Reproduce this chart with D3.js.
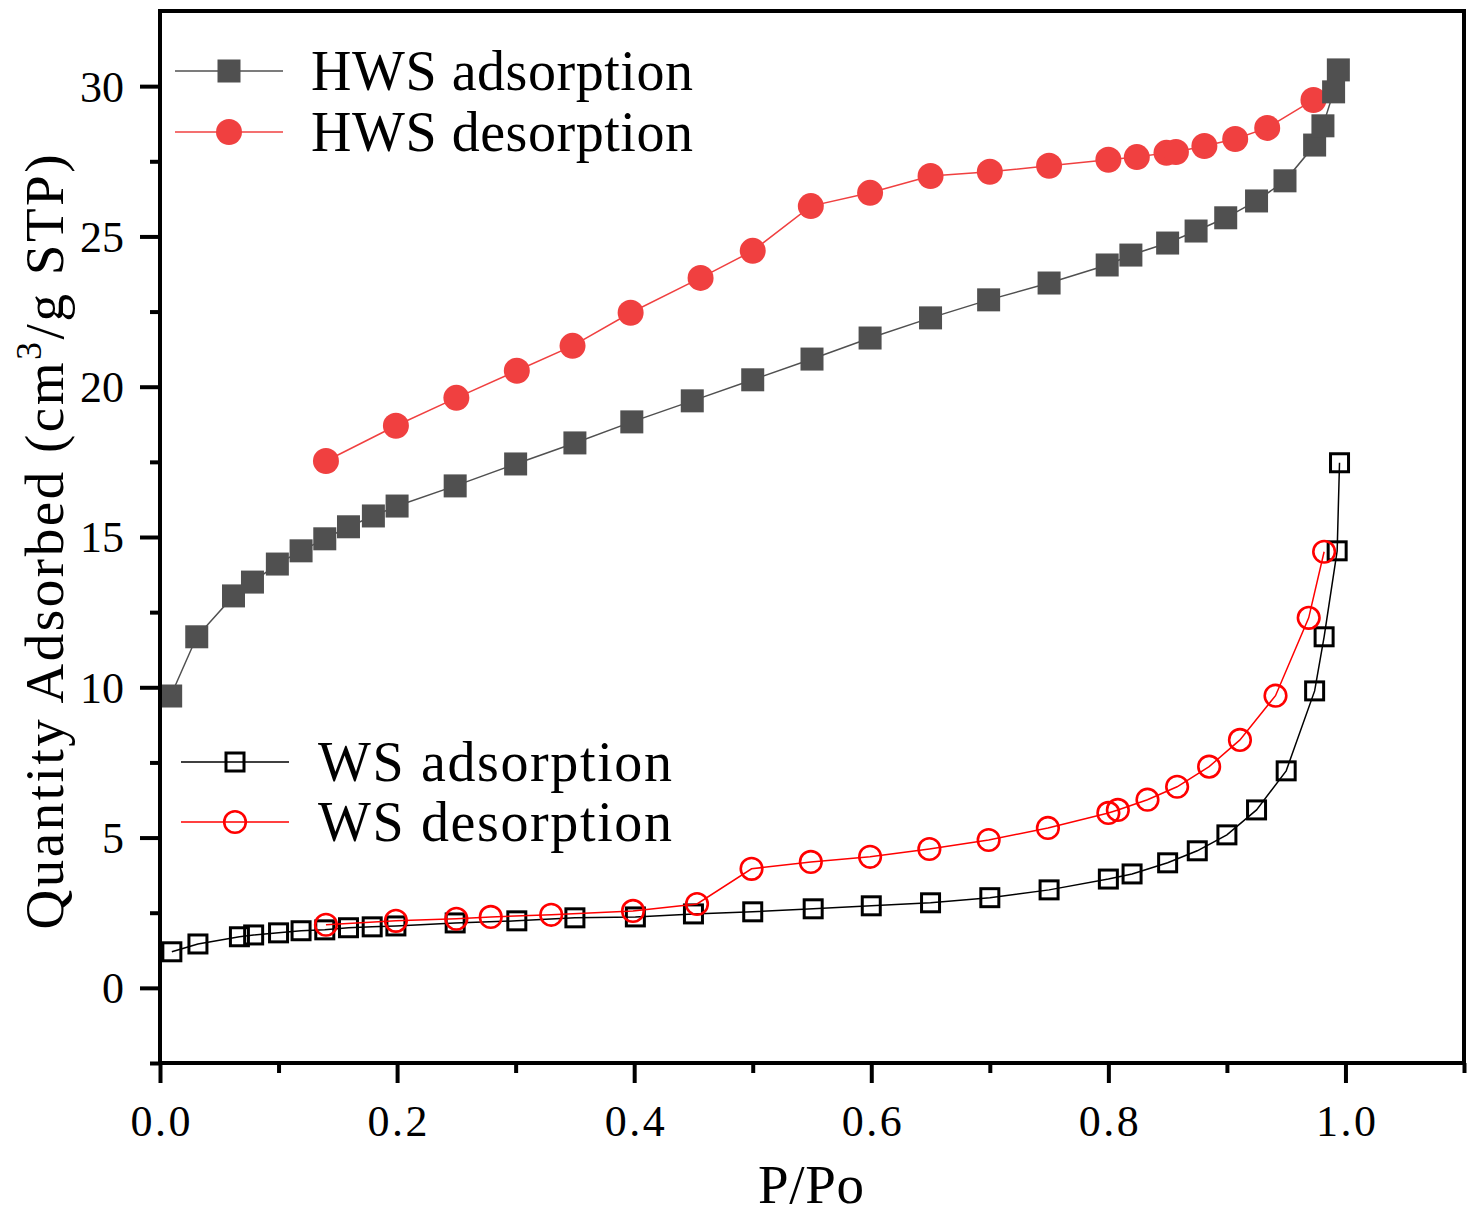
<!DOCTYPE html>
<html>
<head>
<meta charset="utf-8">
<script src="https://cdn.jsdelivr.net/npm/d3@7"></script>
<style>
  body { margin: 0; background: #fff; }
  text { font-family: "Liberation Serif", "DejaVu Serif", serif; }
</style>
</head>
<body>
<script>
// data, [P/Po, quantity adsorbed]
const hwsAdsorption = [
  [0.009, 9.71], [0.031, 11.68], [0.062, 13.04], [0.078, 13.5], [0.099, 14.1],
  [0.119, 14.54], [0.139, 14.94], [0.159, 15.34], [0.18, 15.7], [0.2, 16.03],
  [0.249, 16.7], [0.3, 17.43], [0.35, 18.13], [0.398, 18.83], [0.449, 19.53],
  [0.5, 20.23], [0.55, 20.92], [0.599, 21.62], [0.65, 22.29], [0.699, 22.89],
  [0.75, 23.45], [0.799, 24.05], [0.819, 24.38], [0.85, 24.78], [0.874, 25.18],
  [0.899, 25.62], [0.925, 26.18], [0.949, 26.85], [0.974, 28.04], [0.981, 28.68],
  [0.99, 29.81], [0.994, 30.54]
];
const hwsDesorption = [
  [0.14, 17.53], [0.199, 18.7], [0.25, 19.63], [0.301, 20.53], [0.348, 21.36],
  [0.397, 22.46], [0.456, 23.62], [0.5, 24.52], [0.549, 26.01], [0.599, 26.45],
  [0.65, 27.01], [0.7, 27.15], [0.75, 27.35], [0.8, 27.55], [0.824, 27.64],
  [0.849, 27.78], [0.857, 27.81], [0.881, 28.01], [0.907, 28.24], [0.934, 28.61],
  [0.973, 29.54]
];
const wsAdsorption = [
  [0.01, 1.2], [0.032, 1.46], [0.067, 1.7], [0.079, 1.76], [0.1, 1.83],
  [0.119, 1.9], [0.139, 1.93], [0.159, 2.0], [0.179, 2.03], [0.199, 2.06],
  [0.249, 2.16], [0.301, 2.23], [0.35, 2.33], [0.401, 2.36], [0.45, 2.46],
  [0.5, 2.53], [0.551, 2.63], [0.6, 2.73], [0.65, 2.83], [0.7, 3.0],
  [0.75, 3.26], [0.8, 3.62], [0.82, 3.79], [0.85, 4.16], [0.875, 4.56],
  [0.9, 5.09], [0.925, 5.92], [0.95, 7.22], [0.974, 9.88], [0.982, 11.68],
  [0.993, 14.54], [0.995, 17.47]
];
const wsDesorption = [
  [0.14, 2.1], [0.199, 2.23], [0.25, 2.3], [0.279, 2.36], [0.33, 2.43],
  [0.399, 2.56], [0.453, 2.79], [0.499, 3.96], [0.549, 4.19], [0.599, 4.36],
  [0.649, 4.62], [0.699, 4.92], [0.749, 5.32], [0.8, 5.82], [0.808, 5.92],
  [0.833, 6.26], [0.858, 6.69], [0.885, 7.36], [0.911, 8.25], [0.941, 9.72],
  [0.969, 12.31], [0.982, 14.51]
];

const xMajorTicks = [0, 0.2, 0.4, 0.6, 0.8, 1.0];
const xMinorTicks = [0.1, 0.3, 0.5, 0.7, 0.9, 1.1];
const yMajorTicks = [0, 5, 10, 15, 20, 25, 30];
const yMinorTicks = [-2.5, 2.5, 7.5, 12.5, 17.5, 22.5, 27.5];

const width = 1484, height = 1230;
const plot = { left: 160, right: 1464, top: 11, bottom: 1063 };

const x = d3.scaleLinear().domain([0, 1.1]).range([plot.left, plot.right]);
const y = d3.scaleLinear().domain([-2.5, 32.5]).range([plot.bottom, plot.top]);

const svg = d3.select("body").append("svg")
  .attr("width", width)
  .attr("height", height);

svg.append("rect").attr("width", width).attr("height", height).attr("fill", "#fff");

// series styles
const series = [
  { name: "HWS adsorption", data: hwsAdsorption, marker: "square", filled: true, color: "#505050", line: "#505050" },
  { name: "HWS desorption", data: hwsDesorption, marker: "circle", filled: true, color: "#f04040", line: "#f04040" },
  { name: "WS adsorption", data: wsAdsorption, marker: "square", filled: false, color: "#000", line: "#000" },
  { name: "WS desorption", data: wsDesorption, marker: "circle", filled: false, color: "#ff0000", line: "#ff0000" }
];

function drawMarker(sel, s) {
  if (s.marker == "square") {
    const side = s.filled ? 23 : 18;
    sel.append("rect")
      .attr("x", -side / 2).attr("y", -side / 2)
      .attr("width", side).attr("height", side)
      .attr("fill", s.filled ? s.color : "none")
      .attr("stroke", s.filled ? "none" : s.color)
      .attr("stroke-width", 3);
  } else {
    sel.append("circle")
      .attr("r", s.filled ? 13 : 10.8)
      .attr("fill", s.filled ? s.color : "none")
      .attr("stroke", s.filled ? "none" : s.color)
      .attr("stroke-width", 2.6);
  }
}

const line = d3.line().x(d => x(d[0])).y(d => y(d[1]));

// draw order: desorption under adsorption for HWS, open circles on top for WS
const drawOrder = [1, 0, 2, 3];
drawOrder.forEach(i => {
  const s = series[i];
  const g = svg.append("g");
  g.append("path")
    .attr("d", line(s.data))
    .attr("fill", "none")
    .attr("stroke", s.line)
    .attr("stroke-width", 1.5);
  g.selectAll("g.pt")
    .data(s.data)
    .join("g")
    .attr("class", "pt")
    .attr("transform", d => `translate(${x(d[0])},${y(d[1])})`)
    .each(function () { drawMarker(d3.select(this), s); });
});

// axes
const axisG = svg.append("g");

const xMajor = axisG.append("g")
  .attr("transform", `translate(0,${plot.bottom})`)
  .call(d3.axisBottom(x).tickValues(xMajorTicks).tickSize(20).tickPadding(22).tickFormat(d3.format(".1f")));
const xMinor = axisG.append("g")
  .attr("transform", `translate(0,${plot.bottom})`)
  .call(d3.axisBottom(x).tickValues(xMinorTicks).tickSize(10).tickFormat(""));
const yMajor = axisG.append("g")
  .attr("transform", `translate(${plot.left},0)`)
  .call(d3.axisLeft(y).tickValues(yMajorTicks).tickSize(20).tickPadding(16));
const yMinor = axisG.append("g")
  .attr("transform", `translate(${plot.left},0)`)
  .call(d3.axisLeft(y).tickValues(yMinorTicks).tickSize(10).tickFormat(""));

axisG.selectAll(".domain").remove();
axisG.selectAll(".tick line").attr("stroke", "#000").attr("stroke-width", 4);
axisG.selectAll(".tick text")
  .attr("fill", "#000")
  .attr("font-size", 44);
xMajor.selectAll(".tick text")
  .attr("dy", "0.71em")
  .attr("textLength", 60)
  .attr("lengthAdjust", "spacing");
yMajor.selectAll(".tick text").attr("dy", "0.34em");

// frame
svg.append("rect")
  .attr("x", plot.left).attr("y", plot.top)
  .attr("width", plot.right - plot.left)
  .attr("height", plot.bottom - plot.top)
  .attr("fill", "none")
  .attr("stroke", "#000")
  .attr("stroke-width", 4);

// axis titles
svg.append("text")
  .attr("x", 811).attr("y", 1203)
  .attr("text-anchor", "middle")
  .attr("font-size", 55)
  .attr("textLength", 106)
  .attr("lengthAdjust", "spacing")
  .text("P/Po");

const yTitle = svg.append("text")
  .attr("transform", "translate(63,542) rotate(-90)")
  .attr("text-anchor", "middle")
  .attr("font-size", 55)
  .attr("textLength", 775)
  .attr("lengthAdjust", "spacing");
yTitle.append("tspan").text("Quantity Adsorbed (cm");
yTitle.append("tspan").attr("font-size", 36).attr("dy", -22).text("3");
yTitle.append("tspan").attr("dy", 22).text("/g STP)");

// legends
const legendRows = [
  { s: series[0], x0: 175, x1: 283, y: 71, tx: 311, tw: 382 },
  { s: series[1], x0: 175, x1: 283, y: 132, tx: 311, tw: 382 },
  { s: series[2], x0: 181, x1: 289, y: 762, tx: 318, tw: 354 },
  { s: series[3], x0: 181, x1: 289, y: 822, tx: 318, tw: 354 }
];

legendRows.forEach(r => {
  const g = svg.append("g");
  g.append("line")
    .attr("x1", r.x0).attr("x2", r.x1)
    .attr("y1", r.y).attr("y2", r.y)
    .attr("stroke", r.s.line)
    .attr("stroke-width", 1.5);
  const m = g.append("g").attr("transform", `translate(${(r.x0 + r.x1) / 2},${r.y})`);
  drawMarker(m, r.s);
  g.append("text")
    .attr("x", r.tx).attr("y", r.y + 19)
    .attr("font-size", 56)
    .attr("textLength", r.tw)
    .attr("lengthAdjust", "spacing")
    .text(r.s.name);
});
</script>
</body>
</html>
